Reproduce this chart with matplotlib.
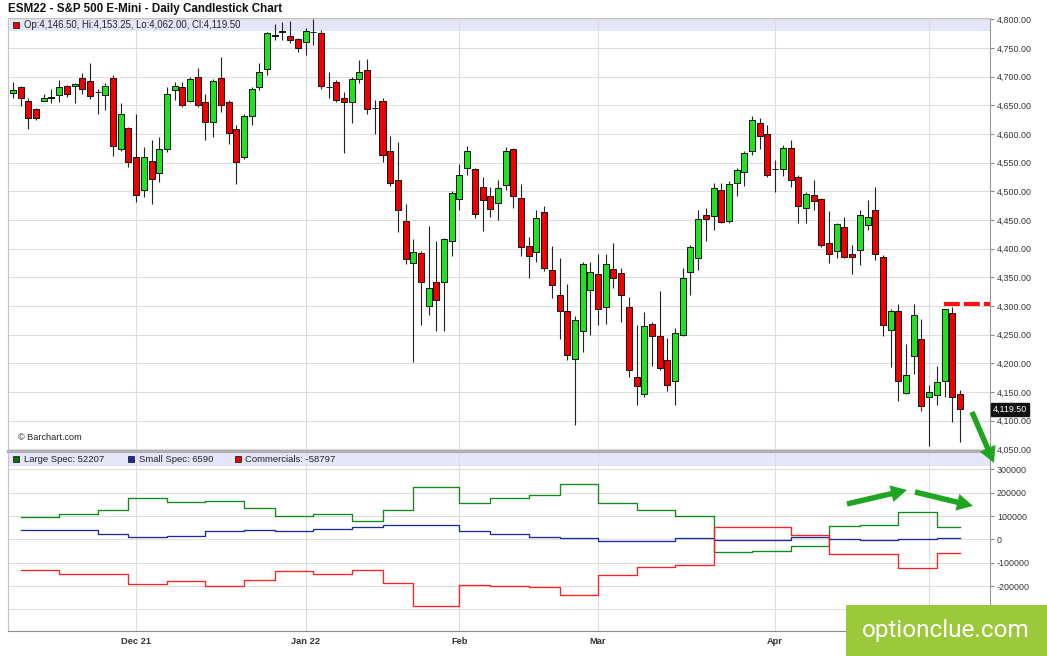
import numpy as np
import matplotlib
matplotlib.use('agg')
import matplotlib.pyplot as plt
import matplotlib.transforms as mtransforms
from matplotlib.patches import Rectangle, FancyArrow
from matplotlib.ticker import FuncFormatter

plt.rcParams['font.family'] = ['Liberation Sans', 'DejaVu Sans']

# daily candles ESM22 (mid Nov 2021 .. May 6 2022)
opens = [4672, 4681, 4657, 4643, 4658, 4663, 4667, 4684, 4683, 4698, 4693, 4673, 4667, 4698, 4573, 4611,
         4560, 4503, 4553, 4532, 4574, 4676, 4682, 4658, 4700, 4655, 4620, 4698, 4655, 4609, 4560, 4631,
         4682, 4713, 4771, 4778, 4771, 4765, 4760, 4777, 4775, 4681, 4691, 4663, 4656, 4696, 4711, 4645,
         4657, 4570, 4519, 4448, 4375, 4393, 4300, 4341, 4341, 4413, 4487, 4541, 4538, 4507, 4492, 4480,
         4510, 4573, 4489, 4405, 4394, 4463, 4362, 4319, 4292, 4208, 4257, 4328, 4355, 4298, 4365, 4357,
         4299, 4177, 4147, 4268, 4247, 4206, 4170, 4249, 4360, 4383, 4459, 4456, 4503, 4448, 4515, 4534,
         4570, 4619, 4599, 4539, 4538, 4576, 4525, 4470, 4493, 4487, 4410, 4395, 4438, 4390, 4398, 4441,
         4468, 4385, 4258, 4291, 4148, 4212, 4242, 4142, 4144, 4170, 4288, 4146.5]
highs = [4690, 4683, 4662, 4645, 4669, 4679, 4694, 4685, 4688, 4706, 4724, 4679, 4688, 4702, 4654, 4612,
         4634, 4577, 4589, 4595, 4681, 4690, 4690, 4699, 4715, 4669, 4696, 4734, 4659, 4615, 4634, 4682,
         4724, 4777, 4791, 4795, 4796, 4767, 4784, 4800, 4781, 4707, 4694, 4673, 4700, 4728, 4730, 4659,
         4662, 4596, 4586, 4478, 4417, 4396, 4439, 4413, 4418, 4500, 4547, 4578, 4540, 4525, 4507, 4519,
         4577, 4576, 4513, 4420, 4468, 4475, 4404, 4383, 4338, 4282, 4376, 4377, 4390, 4391, 4410, 4367,
         4315, 4266, 4289, 4272, 4326, 4244, 4262, 4367, 4406, 4467, 4471, 4514, 4514, 4517, 4540, 4571,
         4631, 4627, 4615, 4555, 4580, 4589, 4528, 4499, 4519, 4489, 4466, 4444, 4455, 4406, 4467, 4484,
         4507, 4389, 4295, 4303, 4234, 4303, 4278, 4163, 4195, 4295, 4298, 4153.25]
lows = [4662, 4648, 4609, 4624, 4657, 4653, 4656, 4665, 4654, 4670, 4660, 4635, 4641, 4561, 4571, 4542,
        4481, 4490, 4478, 4516, 4568, 4659, 4647, 4655, 4647, 4589, 4595, 4638, 4583, 4512, 4557, 4615,
        4676, 4702, 4763, 4763, 4759, 4742, 4738, 4755, 4679, 4662, 4655, 4566, 4619, 4688, 4634, 4599,
        4551, 4509, 4429, 4373, 4202, 4266, 4285, 4256, 4257, 4387, 4467, 4528, 4454, 4431, 4455, 4449,
        4502, 4470, 4387, 4348, 4377, 4361, 4314, 4242, 4205, 4092, 4220, 4249, 4266, 4269, 4332, 4272,
        4176, 4128, 4142, 4196, 4188, 4152, 4128, 4247, 4319, 4363, 4414, 4433, 4444, 4445, 4491, 4509,
        4563, 4574, 4525, 4499, 4526, 4507, 4444, 4444, 4468, 4403, 4375, 4383, 4383, 4355, 4371, 4432,
        4380, 4247, 4193, 4135, 4147, 4181, 4117, 4055, 4128, 4141, 4098, 4062]
closes = [4677, 4663, 4627, 4628, 4662, 4663.5, 4681, 4670, 4687, 4679, 4666, 4673.5, 4684, 4579, 4635, 4551,
          4494, 4560, 4522, 4574, 4670, 4684, 4651, 4695, 4650, 4620, 4692, 4651, 4602, 4551, 4632, 4678,
          4707, 4775, 4771.5, 4778.5, 4763, 4750, 4779, 4777.5, 4683, 4681.5, 4659, 4655, 4696, 4707, 4644, 4645.5,
          4563, 4515, 4467, 4381, 4394, 4341, 4332, 4310, 4416, 4497, 4528, 4570, 4461, 4485, 4469, 4505,
          4570, 4492, 4403, 4387, 4453, 4367, 4336, 4292, 4214, 4275, 4373, 4359, 4294, 4374, 4349, 4319,
          4189, 4160, 4265, 4247, 4191, 4163, 4253, 4348, 4402, 4452, 4451, 4505, 4446, 4512, 4537, 4567,
          4625, 4596, 4529, 4539.5, 4576, 4520, 4474, 4495, 4483, 4407, 4391, 4442, 4385, 4385, 4458, 4455,
          4390, 4266, 4291, 4169, 4179, 4284, 4125, 4150, 4167, 4294, 4141, 4119.5]

# month gridlines; the May label is hidden under the logo in the original
month_labels = ['Dec 21', 'Jan 22', 'Feb', 'Mar', 'Apr', '']
month_index = [16, 38, 58, 76, 99, 119]

resistance = 4304

# weekly COT net positions (step starts at candle index)
cot_index = [1, 6, 11, 15, 20, 25, 30, 34, 39, 44, 48, 52, 58, 62, 67, 71, 76, 81, 86, 91, 96, 101,
             106, 110, 115, 120]
large_spec = [96000, 107000, 124500, 176000, 161700, 166000, 134500, 100000, 107000, 77000, 124500,
              224700, 157400, 177400, 191700, 236100, 157400, 126000, 100000, -53000, -50000, -29000,
              58400, 62700, 118500, 52207]
small_spec = [38600, 38600, 24300, 11400, 15700, 34300, 38600, 34300, 42900, 52900, 61500, 62000,
              37200, 24300, 11400, 4300, -8600, -8600, 5700, -2000, -2000, 8600, 0, -3000, 1500, 6590]
commercials = [-133000, -150000, -150000, -193000, -179000, -200000, -174500, -136000, -150000, -133000,
               -189000, -285000, -196000, -200000, -204600, -239000, -154500, -118800, -110000, 54400,
               52000, 18500, -64400, -64400, -124500, -58797]

W, H = 1047, 656
fig = plt.figure(figsize=(W / 100, H / 100), dpi=100)
fig.patch.set_facecolor('white')

def px_rect(x0, y0, x1, y1):
    return [x0 / W, 1 - y1 / H, (x1 - x0) / W, (y1 - y0) / H]

ax = fig.add_axes(px_rect(8.3, 18, 990, 450.5))
ax2 = fig.add_axes(px_rect(8.3, 452, 990, 631))

grid_col = '#dedede'
tick_col = '#333333'

# ---- candles
o = np.array(opens, float)
c = np.array(closes, float)
h = np.array(highs, float)
l = np.array(lows, float)
x = np.arange(len(o))
up = c >= o
body_col = np.where(up, '#1fe31f', '#f20000')
ax.vlines(x, l, h, color='#222222', lw=0.8, zorder=2)
ax.bar(x, np.abs(c - o), bottom=np.minimum(o, c), width=0.78, color=body_col,
       edgecolor='#111111', linewidth=0.7, zorder=3)

xmax = 126.9
ax.set_xlim(-0.6, xmax)
ax.set_ylim(4048, 4802)
ax.hlines(resistance, 120.9, xmax, colors='#ff1010', lw=3, linestyles=(0, (3.8, 1)), zorder=4)

ax.set_xticks(month_index)
ax.set_yticks(np.arange(4050, 4801, 50))
ax.yaxis.tick_right()
ax.yaxis.set_major_formatter(FuncFormatter(lambda v, p: f'{v:,.2f}'))
ax.tick_params(axis='x', length=0, labelbottom=False)
ax.tick_params(axis='y', length=3, width=0.8, color='#888888', labelsize=6.4, labelcolor=tick_col, pad=2)
ax.grid(True, color=grid_col, lw=0.8)
ax.set_axisbelow(True)
for s in ['left', 'top']:
    ax.spines[s].set_color('#c4c4c4')
    ax.spines[s].set_linewidth(0.8)
ax.spines['right'].set_color('#9a9a9a')
ax.spines['right'].set_linewidth(0.8)
ax.spines['bottom'].set_color('#b0b0b0')
ax.spines['bottom'].set_linewidth(1.6)

# header strip + OHLC legend
sh = 13 / 432.5
ax.add_patch(Rectangle((0, 1 - sh), 1, sh, transform=ax.transAxes, color='#e6e6fa', zorder=0.1, lw=0))
ax.plot([0.0078], [1 - sh / 2], marker='s', ms=4.3, mfc='#ee0000', mec='#222222', mew=0.6,
        transform=ax.transAxes, zorder=5)
ohlc_text = (f'Op:{o[-1]:,.2f}, Hi:{h[-1]:,.2f}, Lo:{l[-1]:,.2f}, Cl:{c[-1]:,.2f}')
ax.text(0.016, 1 - sh / 2, ohlc_text, transform=ax.transAxes, fontsize=6.9, color='#222222',
        va='center', ha='left', zorder=5)
ax.text(0.0099, 0.031, '\u00a9 Barchart.com', transform=ax.transAxes, fontsize=6.6,
        color='#222222', va='center', ha='left')

# last price box
trans = mtransforms.blended_transform_factory(ax.transAxes, ax.transData)
ax.text(1.003, c[-1], f'{c[-1]:,.2f}', transform=trans, fontsize=6.4, color='white', va='center',
        ha='left', bbox=dict(fc='#111111', ec='#111111', pad=1.2), zorder=6, clip_on=False)

# ---- COT panel
cx = cot_index + [len(o) - 1]
ax2.step(cx, large_spec + [large_spec[-1]], where='post', color='#13891a', lw=0.95, zorder=3)
ax2.step(cx, small_spec + [small_spec[-1]], where='post', color='#1c2c9c', lw=0.95, zorder=3)
ax2.step(cx, commercials + [commercials[-1]], where='post', color='#ff2020', lw=0.95, zorder=3)

ax2.set_xlim(-0.6, xmax)
ax2.set_ylim(-393000, 375000)
ax2.set_yticks(np.arange(-300000, 300001, 100000))
ax2.yaxis.tick_right()
ax2.yaxis.set_major_formatter(FuncFormatter(lambda v, p: f'{int(v)}'))
ax2.set_xticks(month_index)
ax2.set_xticklabels(month_labels, fontsize=6.7, fontweight='bold', color=tick_col)
ax2.tick_params(axis='x', length=0, pad=4)
ax2.tick_params(axis='y', length=3, width=0.8, color='#888888', labelsize=6.4, labelcolor=tick_col, pad=2)
ax2.grid(True, color=grid_col, lw=0.8)
ax2.set_axisbelow(True)
ax2.spines['top'].set_color('#b0b0b0')
ax2.spines['top'].set_linewidth(1.6)
ax2.spines['left'].set_color('#c4c4c4')
ax2.spines['left'].set_linewidth(0.8)
ax2.spines['right'].set_color('#9a9a9a')
ax2.spines['right'].set_linewidth(0.8)
ax2.spines['bottom'].set_color('#8a8a8a')
ax2.spines['bottom'].set_linewidth(0.8)

sh2 = 14 / 179
ax2.add_patch(Rectangle((0, 1 - sh2), 1, sh2, transform=ax2.transAxes, color='#e6e6fa', zorder=0.1, lw=0))
legend_items = [('Large Spec', large_spec[-1], '#0f6f0f', 15.5, 24),
                ('Small Spec', small_spec[-1], '#1c2c9c', 130.5, 139),
                ('Commercials', commercials[-1], '#ee0000', 238, 245)]
for name, val, col, mx, tx in legend_items:
    ax2.plot([(mx - 8.3) / 981.7], [1 - sh2 / 2], marker='s', ms=4.3, mfc=col, mec='#222222',
             mew=0.6, transform=ax2.transAxes, zorder=5)
    ax2.text((tx - 8.3) / 981.7, 1 - sh2 / 2, f'{name}: {val}', transform=ax2.transAxes,
             fontsize=6.8, color='#222222', va='center', ha='left', zorder=5)

# title
fig.text(8 / W, 1 - 9 / H, 'ESM22 - S&P 500 E-Mini - Daily Candlestick Chart', fontsize=8.4,
         fontweight='bold', color='#111111', va='center', ha='left')

# ---- overlay: arrows and logo (pixel coordinates)
ov = fig.add_axes([0, 0, 1, 1], zorder=10)
ov.set_xlim(0, W)
ov.set_ylim(H, 0)
ov.axis('off')
ov.patch.set_alpha(0)
arrow_col = '#1fa51f'
for (x0, y0, x1, y1) in [(972, 412, 994, 463), (847, 504, 907, 490), (915, 492, 973, 506)]:
    ov.add_patch(FancyArrow(x0, y0, x1 - x0, y1 - y0, width=5.5, head_width=17, head_length=16,
                            length_includes_head=True, color=arrow_col, lw=0))
ov.add_patch(Rectangle((846, 605), W - 846, H - 605, color='#9cc93c', lw=0))
ov.text(946, 630, 'optionclue.com', fontsize=17.5, color='white', ha='center', va='center',
        family=['Roboto', 'DejaVu Sans'])

fig.savefig('out.png', dpi=100)
